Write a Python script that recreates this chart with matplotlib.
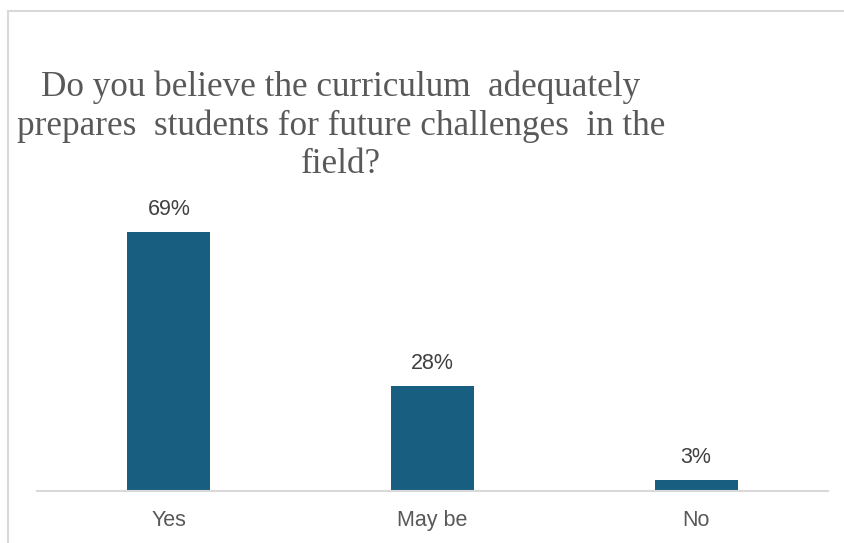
import matplotlib.pyplot as plt
from matplotlib.patches import Rectangle

# Survey answers
categories = ['Yes', 'May be', 'No']
percentages = [69, 28, 3]
value_labels = ['69%', '28%', '3%']

title = ('Do you believe the curriculum  adequately\n'
         'prepares  students for future challenges  in the\n'
         'field?')

fig = plt.figure(figsize=(8.45, 5.43), dpi=100)
fig.patch.set_facecolor('white')

# chart border (cropped at right and bottom in the original)
fig.patches.append(Rectangle((8 / 845, -0.05), 1.1, 1 - 11 / 543 + 0.05,
                             transform=fig.transFigure, fill=False,
                             edgecolor='#d9d9d9', linewidth=1.5))

ax = fig.add_axes([37 / 845, 52 / 543, 791 / 845, 300 / 543])
x = range(len(categories))
bars = ax.bar(x, percentages, width=0.315, color='#185e80')
ax.set_xlim(-0.5, 2.5)
ax.set_ylim(0, 80)

for b, lab in zip(bars, value_labels):
    ax.annotate(lab, (b.get_x() + b.get_width() / 2, b.get_height()),
                xytext=(0, 12), textcoords='offset pixels',
                ha='center', va='bottom', fontsize=15.5,
                family='Liberation Sans', color='#404040')

ax.set_xticks(list(x))
ax.set_xticklabels(categories, fontsize=15.5, family='Liberation Sans',
                   color='#595959')
ax.tick_params(axis='x', length=0, pad=14)
ax.set_yticks([])
for s in ['top', 'right', 'left']:
    ax.spines[s].set_visible(False)
ax.spines['bottom'].set_color('#d9d9d9')
ax.spines['bottom'].set_linewidth(1.5)

# title: baseline of the last line
fig.text(341 / 845, 1 - 173 / 543, title, ha='center', va='baseline',
         fontsize=25.3, family='Liberation Serif', color='#595959',
         linespacing=1.2)

fig.savefig('out.png', dpi=100)
